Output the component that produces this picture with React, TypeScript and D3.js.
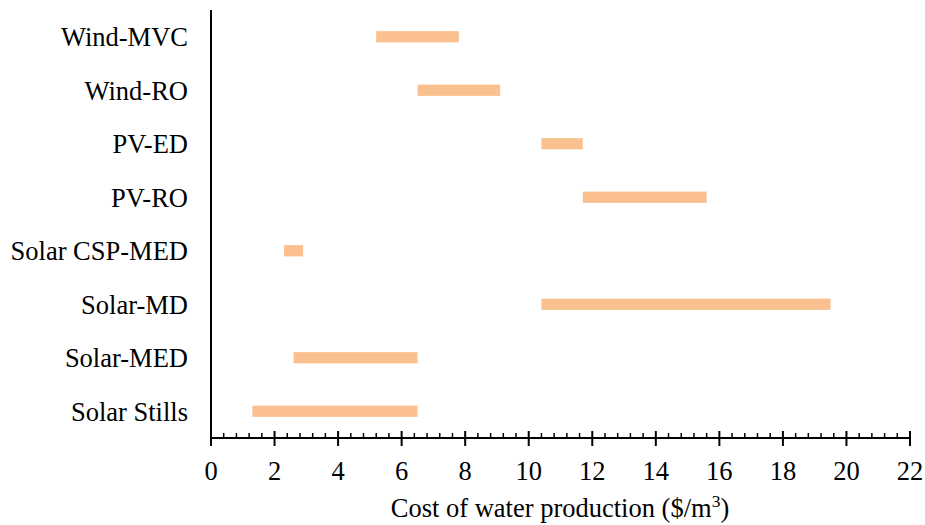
import React from 'react';
import * as d3 from 'd3';

// Floating range bars: cost of water production per desalination tech.

const WIDTH = 925;
const HEIGHT = 525;
const MARGIN = { top: 10, right: 15, bottom: 87, left: 211 };

const TECHS = [
  'Wind-MVC',
  'Wind-RO',
  'PV-ED',
  'PV-RO',
  'Solar CSP-MED',
  'Solar-MD',
  'Solar-MED',
  'Solar Stills',
];
const COST_LOW = [5.2, 6.5, 10.4, 11.7, 2.3, 10.4, 2.6, 1.3];
const COST_HIGH = [7.8, 9.1, 11.7, 15.6, 2.9, 19.5, 6.5, 6.5];
const X_TICKS = [0, 2, 4, 6, 8, 10, 12, 14, 16, 18, 20, 22];
const MINOR_STEP = 0.4;

const BAR_COLOR = '#fac090';
const FONT = '"Liberation Serif", "Times New Roman", serif';

export default function App() {
  const innerBottom = HEIGHT - MARGIN.bottom;
  const x = d3.scaleLinear().domain([0, 22]).range([MARGIN.left, 910]);
  const y = d3
    .scaleBand<string>()
    .domain(TECHS)
    .range([MARGIN.top, innerBottom])
    .paddingInner(0.79)
    .paddingOuter(0.395);

  const minorTicks = d3
    .range(0, 22 + 1e-6, MINOR_STEP)
    .filter((v) => Math.abs(v / 2 - Math.round(v / 2)) > 1e-6);

  return (
    <svg
      width={WIDTH}
      height={HEIGHT}
      style={{ position: 'absolute', left: 0, top: 0, background: '#fff' }}
      fontFamily={FONT}
    >
      {/* bars */}
      {TECHS.map((t, i) => (
        <rect
          key={t}
          x={x(COST_LOW[i])}
          y={y(t)}
          width={x(COST_HIGH[i]) - x(COST_LOW[i])}
          height={y.bandwidth()}
          fill={BAR_COLOR}
        />
      ))}

      {/* category labels */}
      {TECHS.map((t) => (
        <text
          key={`lab-${t}`}
          x={188}
          y={(y(t) ?? 0) + y.bandwidth() / 2 + 9.3}
          textAnchor="end"
          fontSize={26.5}
          fill="#000"
        >
          {t}
        </text>
      ))}

      {/* y axis line */}
      <line x1={MARGIN.left} x2={MARGIN.left} y1={MARGIN.top} y2={innerBottom} stroke="#000" strokeWidth={2} />

      {/* x axis */}
      <line x1={x(0)} x2={x(22)} y1={innerBottom} y2={innerBottom} stroke="#000" strokeWidth={2} />
      {minorTicks.map((v) => (
        <line
          key={`mn-${v}`}
          x1={x(v)}
          x2={x(v)}
          y1={innerBottom - 5}
          y2={innerBottom}
          stroke="#000"
          strokeWidth={1.5}
        />
      ))}
      {X_TICKS.map((v) => (
        <g key={`mj-${v}`}>
          <line x1={x(v)} x2={x(v)} y1={innerBottom - 7} y2={innerBottom + 8} stroke="#000" strokeWidth={2} />
          <text x={x(v)} y={480} textAnchor="middle" fontSize={26.5} fill="#000">
            {v}
          </text>
        </g>
      ))}

      <text x={560} y={517} textAnchor="middle" fontSize={26.5} fill="#000">
        Cost of water production ($/m
        <tspan baselineShift="super" fontSize={17.5}>3</tspan>)
      </text>
    </svg>
  );
}
